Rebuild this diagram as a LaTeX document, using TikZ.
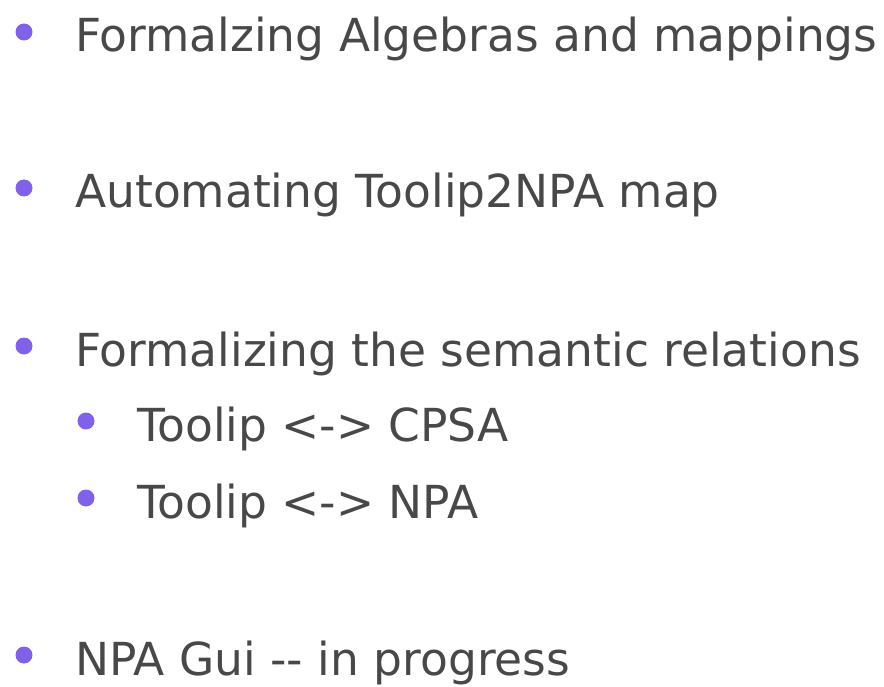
\documentclass[tikz,border=0pt]{standalone}
\usepackage{fontspec}
\usepackage{xcolor}
\newfontfamily\slidefont{DejaVu Sans}
\definecolor{dotpurple}{HTML}{8062E8}
\definecolor{textgray}{HTML}{484848}
\tikzset{
  dot/.style={circle, fill=dotpurple, inner sep=0pt, minimum size=17pt},
  itemtext/.style={anchor=base west, inner sep=0pt, text=textgray,
    font=\slidefont\fontsize{45.5}{54}\selectfont}
}
\begin{document}
\begin{tikzpicture}[x=1pt, y=-1pt]
        \useasboundingbox (0,0) rectangle (884,687);
        \node[dot] (d1) at (24,32) {};
        \node[itemtext] (t1) at (75,52) {Formalzing Algebras and mappings};
        \node[dot] (d2) at (24,188) {};
        \node[itemtext] (t2) at (75,208) {Automating Toolip2NPA map};
        \node[dot] (d3) at (24,346) {};
        \node[itemtext] (t3) at (75,366) {Formalizing the semantic relations};
        \node[dot] (d4) at (86,421) {};
        \node[itemtext] (t4) at (137,441) {Toolip <-> CPSA};
        \node[dot] (d5) at (86,498) {};
        \node[itemtext] (t5) at (137,518) {Toolip <-> NPA};
        \node[dot] (d6) at (24,655) {};
        \node[itemtext] (t6) at (75,675) {NPA Gui {-}{-} in progress};
    \end{tikzpicture}
\end{document}
